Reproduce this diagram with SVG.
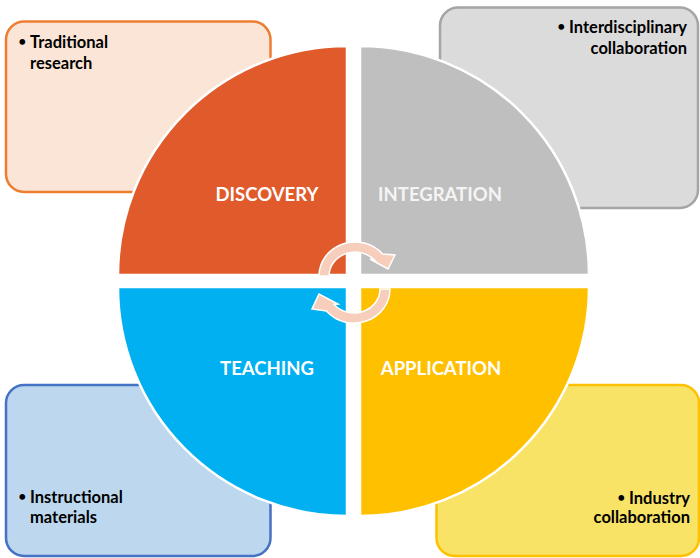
<svg xmlns="http://www.w3.org/2000/svg" width="700" height="558" viewBox="0 0 700 558">
<style>
.box{stroke-width:2.5}
.q{stroke:#FFFFFF;stroke-width:2.5;stroke-linejoin:miter}
.lbl{font-family:Lato,"Open Sans","Liberation Sans",sans-serif;font-weight:bold;font-size:18.5px;text-anchor:middle;fill:#FFFFFF}
.t{font-family:Lato,"Open Sans","Liberation Sans",sans-serif;font-weight:bold;font-size:16.5px;fill:#000000}
.b{font-size:13px}
.r{text-anchor:end}
.arr{fill:#F7CDBB;stroke:#FFFFFF;stroke-width:1.5;stroke-linejoin:miter}
</style>
<rect width="700" height="558" fill="#FFFFFF"/>
<g id="box-traditional">
<rect class="box" x="6" y="21.5" width="264.5" height="170.5" rx="18" fill="#FBE5D6" stroke="#ED7D31"/>
<text class="t b" x="18.5" y="45.5">•</text>
<text class="t" x="30" y="48">Traditional</text>
<text class="t" x="30" y="69">research</text>
</g>
<g id="box-interdisciplinary">
<rect class="box" x="440" y="7.5" width="258" height="200.5" rx="18" fill="#DBDBDB" stroke="#A5A5A5"/>
<text class="t r" x="687" y="33"><tspan class="b" dy="-2.5">•</tspan><tspan dy="2.5"> Interdisciplinary</tspan></text>
<text class="t r" x="687" y="54">collaboration</text>
</g>
<g id="box-instructional">
<rect class="box" x="6" y="385" width="264.5" height="171" rx="18" fill="#BDD7EE" stroke="#4472C4"/>
<text class="t b" x="18.5" y="500.5">•</text>
<text class="t" x="30" y="503">Instructional</text>
<text class="t" x="30" y="523">materials</text>
</g>
<g id="box-industry">
<rect class="box" x="436.5" y="385" width="262.5" height="171" rx="18" fill="#F8E366" stroke="#FFC000"/>
<text class="t r" x="690" y="504"><tspan class="b" dy="-2.5">•</tspan><tspan dy="2.5"> Industry</tspan></text>
<text class="t r" x="690" y="523">collaboration</text>
</g>
<g id="discovery">
<path class="q" d="M347 275 L118 275 A229 229 0 0 1 347 46 Z" fill="#E05A2B"/>
<text class="lbl" x="267" y="201">DISCOVERY</text>
</g>
<g id="integration">
<path class="q" d="M360 275 L360 46 A229 229 0 0 1 589 275 Z" fill="#BFBFBF"/>
<text class="lbl" x="440" y="201" style="fill:#F4F4F4">INTEGRATION</text>
</g>
<g id="application">
<path class="q" d="M360 287 L589 287 A229 229 0 0 1 360 516 Z" fill="#FFC000"/>
<text class="lbl" x="441" y="375">APPLICATION</text>
</g>
<g id="teaching">
<path class="q" d="M347 287 L347 516 A229 229 0 0 1 118 287 Z" fill="#00B0F0"/>
<text class="lbl" x="267" y="375">TEACHING</text>
</g>
<g id="connectors">
<path class="arr" d="M319 276 A36 34 0 0 1 382.6 254.1 L395 255 L388 269 L370 259 L374.9 260.6 A26 24 0 0 0 329 276 Z"/>
<path class="arr" d="M390 289 A36 34 0 0 1 326.4 310.9 L312 309 L319 294 L338 304 L334.1 304.4 A26 24 0 0 0 380 289 Z"/>
</g>
</svg>
